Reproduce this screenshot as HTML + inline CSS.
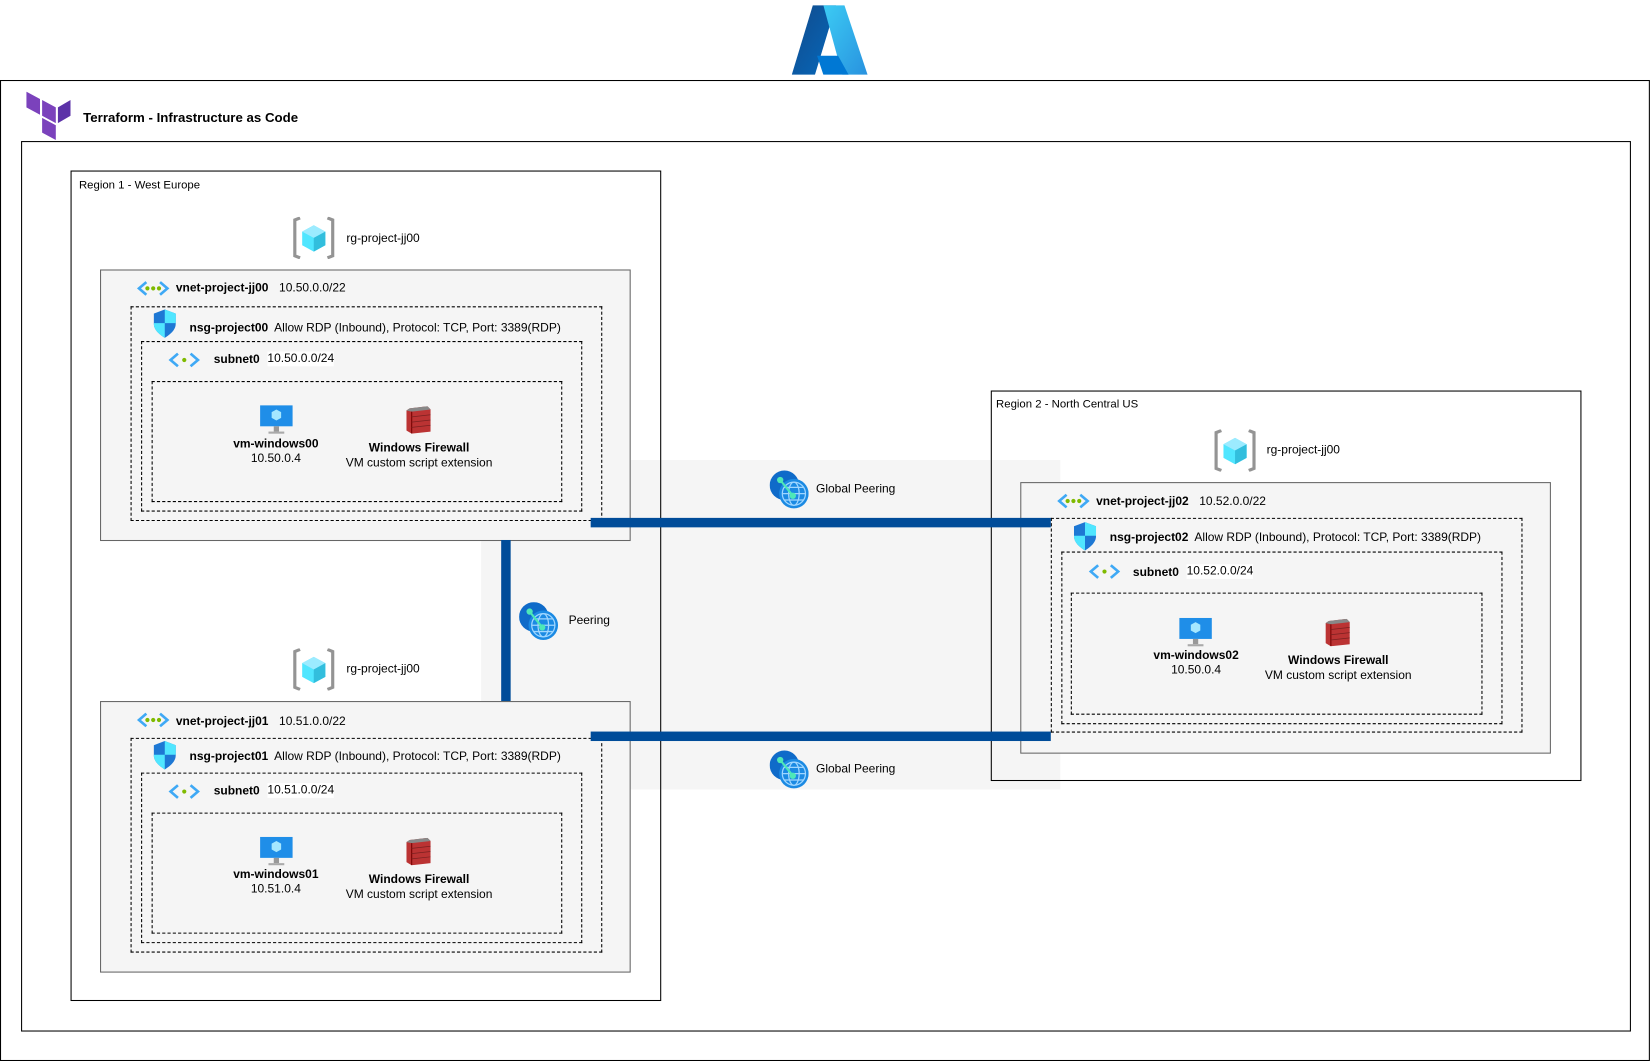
<!DOCTYPE html>
<html><head><meta charset="utf-8"><style>
html,body{margin:0;padding:0;background:#fff;width:1651px;height:1061px;overflow:hidden}
#s{position:absolute;left:0;top:0;width:1568px;height:1008px;transform:scale(1.0529,1.0526);transform-origin:0 0;font-family:"Liberation Sans",Arial,sans-serif;color:#000}
.a{position:absolute}
.box{position:absolute;border:1px solid #000;box-sizing:border-box}
.vnet{position:absolute;width:504px;height:258px;background:#f5f5f5;border:1px solid #666;box-sizing:border-box}
.d{position:absolute;border:1px dashed #000;box-sizing:border-box}
.t{position:absolute;font-size:11.4px;line-height:14px;white-space:nowrap}
.b{font-weight:bold}
.c{text-align:center;transform:translateX(-50%)}
.bl{position:absolute;background:#004c99}
</style></head><body><div id="s">
<svg width="0" height="0" style="position:absolute">
<defs>
<linearGradient id="az1" x1="0" y1="0" x2="1" y2="1"><stop offset="0" stop-color="#114a8b"/><stop offset="1" stop-color="#0669bc"/></linearGradient>
<linearGradient id="az2" x1="0" y1="0" x2="1" y2="1"><stop offset="0" stop-color="#3ccbf4"/><stop offset="1" stop-color="#2892df"/></linearGradient>
<g id="vnetI"><path d="M9 1 L2 7 L9 13" fill="none" stroke="#3fa9f5" stroke-width="2.5"/><path d="M22 1 L29 7 L22 13" fill="none" stroke="#3fa9f5" stroke-width="2.5"/><circle cx="10" cy="7" r="2" fill="#7fba00"/><circle cx="15.5" cy="7" r="2" fill="#7fba00"/><circle cx="21" cy="7" r="2" fill="#7fba00"/></g>
<g id="subI"><path d="M9 1 L2 7 L9 13" fill="none" stroke="#3fa9f5" stroke-width="2.5"/><path d="M21 1 L28 7 L21 13" fill="none" stroke="#3fa9f5" stroke-width="2.5"/><circle cx="15" cy="7" r="2" fill="#7fba00"/></g>
<g id="shI"><path d="M10.5 0 L21 4 L21 13 C21 20 15 24 10.5 27 C6 24 0 20 0 13 L0 4 Z" fill="#1e78d4"/><path d="M10.5 0 L21 4 L21 13 L10.5 13 Z M0 13 L10.5 13 L10.5 27 C6 24 0 20 0 13Z" fill="#50e6ff"/></g>
<g id="vmI"><rect x="0" y="0" width="31" height="20" fill="#1f8ee8"/><rect x="13" y="20" width="5" height="5" fill="#999"/><rect x="8" y="25" width="15" height="2" fill="#aaa"/><path d="M15.5 4 L20 6.5 L20 12 L15.5 14.5 L11 12 L11 6.5Z" fill="#a5e7ff"/></g>
<g id="fwI"><path d="M3 2 L20 0 L23 3 L23 24 L5 26 L0 23 L0 4Z" fill="#b33"/><path d="M0 4 L3 2 L20 0 L23 3 L5 5Z" fill="#888"/><path d="M5 5 L5 26" stroke="#700" /><g stroke="#7a2020" stroke-width=".7"><path d="M5 10 L23 8 M5 15 L23 13 M5 20 L23 18"/></g></g>
<g id="rgI"><path d="M7 1 L2 3 L2 37 L7 39" fill="none" stroke="#949494" stroke-width="3"/><path d="M33 1 L38 3 L38 37 L33 39" fill="none" stroke="#949494" stroke-width="3"/><path d="M20 8 L31 14 L31 27 L20 33 L9 27 L9 14Z" fill="#50e6ff"/><path d="M20 8 L31 14 L20 20 L9 14Z" fill="#9cebff"/><path d="M20 20 L31 14 L31 27 L20 33Z" fill="#32bedd"/></g>
<g id="glI"><circle cx="14" cy="14" r="14" fill="#0f6bc9"/><circle cx="23" cy="22" r="14" fill="#1b8ae3"/><circle cx="23" cy="22" r="11" fill="none" stroke="#9fd6ff" stroke-width="1.2"/><ellipse cx="23" cy="22" rx="5" ry="11" fill="none" stroke="#9fd6ff" stroke-width="1.2"/><path d="M12 22 L34 22 M14 16 L32 16 M14 28 L32 28" stroke="#9fd6ff" stroke-width="1.2"/><path d="M10 9 L22 24" stroke="#4de8b8" stroke-width="2"/><circle cx="10" cy="9" r="3" fill="#4de8b8"/><circle cx="22" cy="24" r="3" fill="#4de8b8"/></g>
</defs></svg>

<svg class="a" style="left:752px;top:5px" width="72" height="66" viewBox="0 0 72 66">
<path d="M20 0 L42 0 L22 66 L0 66Z" fill="url(#az1)"/>
<path d="M30 0 L50 0 L72 66 L48 66Z" fill="url(#az2)"/>
<path d="M24 48 L44 48 L54 66 L30 66Z" fill="#0078d4"/>
</svg>

<div class="box" style="left:0;top:76px;width:1567px;height:932px"></div>
<svg class="a" style="left:25px;top:87px" width="42" height="46"><path d="M0 0 L13 7 L13 22 L0 15Z M15 8 L28 15 L28 30 L15 23Z M15 25 L28 32 L28 46 L15 39Z" fill="#7b42bc"/><path d="M30 15 L42 8 L42 23 L30 30Z" fill="#5c32a8"/></svg>
<div class="t b" style="left:79px;top:105px;font-size:12.6px">Terraform - Infrastructure as Code</div>
<div class="box" style="left:20px;top:134px;width:1529px;height:846px"></div>

<div class="a" style="left:457px;top:437px;width:550px;height:313px;background:#f5f5f5"></div>

<div class="box" style="left:67px;top:162px;width:561px;height:789px"></div>
<div class="t" style="left:75px;top:169px;font-size:10.8px">Region 1 - West Europe</div>
<div class="box" style="left:941px;top:371px;width:561px;height:371px"></div>
<div class="t" style="left:946px;top:377px;font-size:10.8px">Region 2 - North Central US</div>

<svg class="a" style="left:278px;top:206px" width="40" height="40"><use href="#rgI"/></svg>
<div class="t" style="left:329px;top:220px">rg-project-jj00</div>
<svg class="a" style="left:278px;top:616px" width="40" height="40"><use href="#rgI"/></svg>
<div class="t" style="left:329px;top:629px">rg-project-jj00</div>
<svg class="a" style="left:1153px;top:408px" width="40" height="40"><use href="#rgI"/></svg>
<div class="t" style="left:1203px;top:421px">rg-project-jj00</div>

<div class="vnet" style="left:95px;top:256px">
<svg class="a" style="left:34px;top:10px" width="31" height="14"><use href="#vnetI"/></svg>
<div class="t b" style="left:71px;top:10px">vnet-project-jj00</div><div class="t" style="left:169px;top:10px">10.50.0.0/22</div>
<div class="d" style="left:28px;top:34px;width:448px;height:204px"></div>
<svg class="a" style="left:50px;top:37px" width="21" height="27"><use href="#shI"/></svg>
<div class="t" style="left:84px;top:48px"><b>nsg-project00</b>&nbsp; Allow RDP (Inbound), Protocol: TCP, Port: 3389(RDP)</div>
<div class="d" style="left:38px;top:67px;width:419px;height:162px"></div>
<svg class="a" style="left:64px;top:78px" width="30" height="14"><use href="#subI"/></svg>
<div class="t b" style="left:107px;top:78px">subnet0</div><div class="t" style="left:158px;top:77px;background:#fff">10.50.0.0/24</div>
<div class="d" style="left:48px;top:105px;width:390px;height:115px"></div>
<svg class="a" style="left:151px;top:128px" width="31" height="28"><use href="#vmI"/></svg>
<div class="t b c" style="left:166px;top:158px">vm-windows00</div><div class="t c" style="left:166px;top:172px">10.50.0.4</div>
<svg class="a" style="left:290px;top:129px" width="23" height="26"><use href="#fwI"/></svg>
<div class="t b c" style="left:302px;top:162px">Windows Firewall</div><div class="t c" style="left:302px;top:176px">VM custom script extension</div>
</div>

<div class="vnet" style="left:95px;top:666px">
<svg class="a" style="left:34px;top:10px" width="31" height="14"><use href="#vnetI"/></svg>
<div class="t b" style="left:71px;top:12px">vnet-project-jj01</div><div class="t" style="left:169px;top:12px">10.51.0.0/22</div>
<div class="d" style="left:28px;top:34px;width:448px;height:204px"></div>
<svg class="a" style="left:50px;top:37px" width="21" height="27"><use href="#shI"/></svg>
<div class="t" style="left:84px;top:45px"><b>nsg-project01</b>&nbsp; Allow RDP (Inbound), Protocol: TCP, Port: 3389(RDP)</div>
<div class="d" style="left:38px;top:67px;width:419px;height:162px"></div>
<svg class="a" style="left:64px;top:78px" width="30" height="14"><use href="#subI"/></svg>
<div class="t b" style="left:107px;top:78px">subnet0</div><div class="t" style="left:158px;top:77px;background:#fff">10.51.0.0/24</div>
<div class="d" style="left:48px;top:105px;width:390px;height:115px"></div>
<svg class="a" style="left:151px;top:128px" width="31" height="28"><use href="#vmI"/></svg>
<div class="t b c" style="left:166px;top:157px">vm-windows01</div><div class="t c" style="left:166px;top:171px">10.51.0.4</div>
<svg class="a" style="left:290px;top:129px" width="23" height="26"><use href="#fwI"/></svg>
<div class="t b c" style="left:302px;top:162px">Windows Firewall</div><div class="t c" style="left:302px;top:176px">VM custom script extension</div>
</div>

<div class="vnet" style="left:969px;top:458px">
<svg class="a" style="left:34px;top:10px" width="31" height="14"><use href="#vnetI"/></svg>
<div class="t b" style="left:71px;top:11px">vnet-project-jj02</div><div class="t" style="left:169px;top:11px">10.52.0.0/22</div>
<div class="d" style="left:28px;top:33px;width:448px;height:204px"></div>
<svg class="a" style="left:50px;top:37px" width="21" height="27"><use href="#shI"/></svg>
<div class="t" style="left:84px;top:45px"><b>nsg-project02</b>&nbsp; Allow RDP (Inbound), Protocol: TCP, Port: 3389(RDP)</div>
<div class="d" style="left:38px;top:65px;width:419px;height:164px"></div>
<svg class="a" style="left:64px;top:77px" width="30" height="14"><use href="#subI"/></svg>
<div class="t b" style="left:106px;top:78px">subnet0</div><div class="t" style="left:157px;top:77px;background:#fff">10.52.0.0/24</div>
<div class="d" style="left:47px;top:104px;width:391px;height:116px"></div>
<svg class="a" style="left:150px;top:128px" width="31" height="28"><use href="#vmI"/></svg>
<div class="t b c" style="left:166px;top:157px">vm-windows02</div><div class="t c" style="left:166px;top:171px">10.50.0.4</div>
<svg class="a" style="left:289px;top:129px" width="23" height="26"><use href="#fwI"/></svg>
<div class="t b c" style="left:301px;top:162px">Windows Firewall</div><div class="t c" style="left:301px;top:176px">VM custom script extension</div>
</div>

<div class="bl" style="left:476px;top:513px;width:9px;height:153px"></div>
<div class="bl" style="left:561px;top:492px;width:437px;height:9px"></div>
<div class="bl" style="left:561px;top:695px;width:437px;height:9px"></div>

<svg class="a" style="left:731px;top:447px" width="37" height="37"><use href="#glI"/></svg>
<div class="t" style="left:775px;top:458px">Global Peering</div>
<svg class="a" style="left:493px;top:572px" width="37" height="37"><use href="#glI"/></svg>
<div class="t" style="left:540px;top:583px">Peering</div>
<svg class="a" style="left:731px;top:713px" width="37" height="37"><use href="#glI"/></svg>
<div class="t" style="left:775px;top:724px">Global Peering</div>
</div></body></html>
